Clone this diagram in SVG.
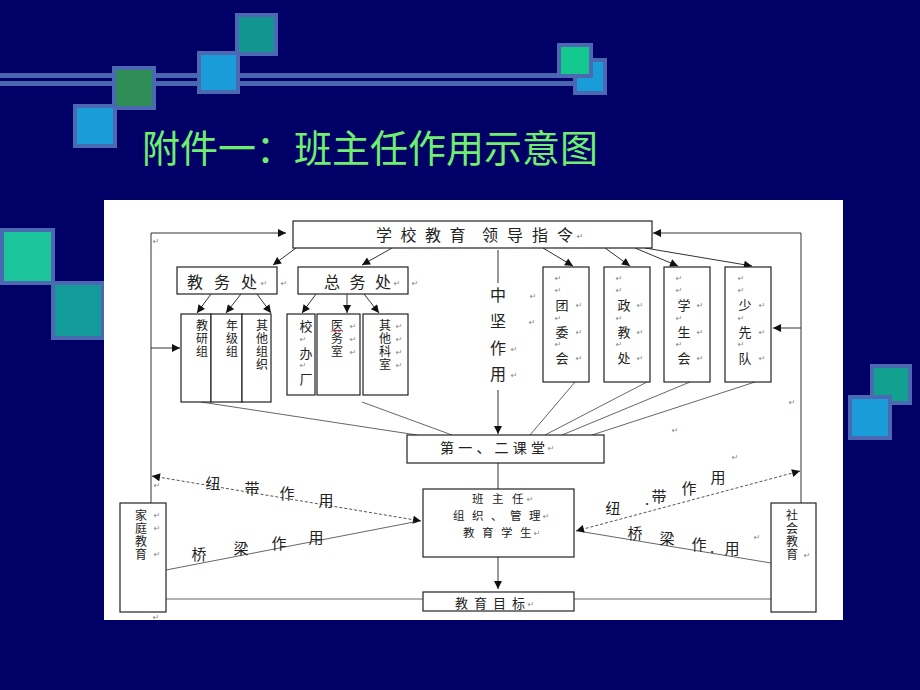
<svg xmlns="http://www.w3.org/2000/svg" width="920" height="690" viewBox="0 0 920 690">
<defs>
<style>
.sq{stroke:#4B68B3;stroke-width:4}
.bx{fill:#fff;stroke:#222;stroke-width:1.2}
.ln{fill:none;stroke:#333;stroke-width:1}
.lt{fill:none;stroke:#555;stroke-width:0.9}
.ds{fill:none;stroke:#555;stroke-width:1;stroke-dasharray:3 2}
.t{font-family:"Noto Sans CJK SC","Noto Sans",sans-serif;fill:#222;text-anchor:middle;dominant-baseline:central}
.s{font-family:"Noto Sans CJK SC","Noto Sans",sans-serif;fill:#222;text-anchor:start;dominant-baseline:central}
.v{font-family:"Noto Sans CJK SC","Noto Sans",sans-serif;fill:#222;font-size:12px;writing-mode:vertical-rl;letter-spacing:1px}
.t115{font-size:11.5px}
.t13{font-size:13px}
.t14{font-size:14px}
.t15{font-size:15px}
.t16{font-size:16px}
.pm{font-family:"DejaVu Sans",sans-serif;font-size:8px;fill:#888;text-anchor:middle;dominant-baseline:central}
</style>
<marker id="ah" viewBox="0 0 10 10" refX="10" refY="5" markerWidth="9" markerHeight="8" markerUnits="userSpaceOnUse" orient="auto-start-reverse"><path d="M0,0 L10,5 L0,10 z" fill="#111"/></marker>
</defs>
<rect width="920" height="690" fill="#000066"/>
<g id="decor">
<rect x="0" y="73" width="573" height="5" fill="#4A66B0"/>
<rect x="0" y="81" width="573" height="5" fill="#4A66B0"/>
<rect class="sq" x="237" y="15" width="39" height="39" fill="#13958F"/>
<rect class="sq" x="199" y="53" width="39" height="39" fill="#1A9CD8"/>
<rect class="sq" x="114" y="68" width="40" height="40" fill="#2F8D58"/>
<rect class="sq" x="75" y="106" width="40" height="40" fill="#1A9CD8"/>
<rect class="sq" x="575" y="60" width="30" height="33" fill="#1A9CD8"/>
<rect class="sq" x="559" y="45" width="32" height="31" fill="#13C98F"/>
<rect class="sq" x="2" y="230" width="51" height="53" fill="#1BC49A"/>
<rect class="sq" x="53" y="283" width="50" height="55" fill="#129B99"/>
<rect class="sq" x="872" y="366" width="38" height="37" fill="#12A090"/>
<rect class="sq" x="850" y="397" width="40" height="41" fill="#1A9CD8"/>
</g>
<text id="title" x="142" y="162" font-family="Noto Sans CJK SC, sans-serif" font-size="38" fill="#6FEF6F">附件一：班主任作用示意图</text>
<rect id="panel" x="104" y="200" width="739" height="420" fill="#fff"/>

<g id="connectors">
<path class="ln" d="M151,503 V233 H286" marker-end="url(#ah)"/>
<path class="ln" d="M151,348 H180" marker-end="url(#ah)"/>
<path class="ln" d="M801,503 V233 H653" marker-end="url(#ah)"/>
<path class="ln" d="M801,328 H773" marker-end="url(#ah)"/>
<path class="ln" d="M296,248 L273,265" marker-end="url(#ah)"/>
<path class="ln" d="M392,248 L362,265" marker-end="url(#ah)"/>
<path class="ln" d="M211,294 L197,313" marker-end="url(#ah)"/>
<path class="ln" d="M241,294 L226,313" marker-end="url(#ah)"/>
<path class="ln" d="M257,294 L271,313" marker-end="url(#ah)"/>
<path class="ln" d="M316,294 L302,313" marker-end="url(#ah)"/>
<path class="ln" d="M347,294 L347,313" marker-end="url(#ah)"/>
<path class="ln" d="M364,294 L379,313" marker-end="url(#ah)"/>
<path class="ln" d="M543,248 L573,266" marker-end="url(#ah)"/>
<path class="ln" d="M605,248 L630,266" marker-end="url(#ah)"/>
<path class="ln" d="M635,248 L678,266" marker-end="url(#ah)"/>
<path class="ln" d="M645,248 L752,266" marker-end="url(#ah)"/>
<path class="ln" d="M498,250 V283"/>
<path class="ln" d="M498,390 V434" marker-end="url(#ah)"/>
<path class="lt" d="M201,402 L417,435"/>
<path class="lt" d="M362,402 L452,435"/>
<path class="lt" d="M575,382 L530,435"/>
<path class="lt" d="M647,382 L545,435"/>
<path class="lt" d="M690,382 L562,435"/>
<path class="lt" d="M755,382 L592,435"/>
<path class="ln" d="M498,463 V489"/>
<path class="ln" d="M498,557 V589" marker-end="url(#ah)"/>
<path class="lt" d="M166,599 H423"/>
<path class="lt" d="M574,599 H771"/>
<path class="ds" d="M152,476 L421,521" marker-start="url(#ah)" marker-end="url(#ah)"/>
<path class="lt" d="M166,570 L414,522"/>
<path class="ds" d="M576,531 L800,471" marker-start="url(#ah)" marker-end="url(#ah)"/>
<path class="lt" d="M771,563 L584,532"/>
</g>

<g id="labels">
<text class="t t15" x="213" y="482">纽</text>
<text class="t t15" x="252" y="487">带</text>
<text class="t t15" x="287" y="492">作</text>
<text class="t t15" x="326" y="499">用</text>
<text class="t t15" x="199" y="553">桥</text>
<text class="t t15" x="241" y="547">梁</text>
<text class="t t15" x="279" y="542">作</text>
<text class="t t15" x="316" y="536">用</text>
<text class="t t15" x="613" y="507">纽</text>
<text class="t t15" x="647" y="498">.</text>
<text class="t t15" x="659" y="495">带</text>
<text class="t t15" x="689" y="487">作</text>
<text class="t t15" x="718" y="476">用</text>
<text class="t t15" x="635" y="532">桥</text>
<text class="t t15" x="667" y="537">梁</text>
<text class="t t15" x="699" y="543">作</text>
<text class="t t15" x="712" y="546">.</text>
<text class="t t15" x="732" y="547">用</text>
</g>

<g id="n-top">
<rect class="bx" x="293" y="221" width="359" height="27"/>
<text class="s t16" x="376 400.5 425 449.5" y="234">学校教育</text>
<text class="s t16" x="482 507 532 557" y="234">领导指令</text>
<text class="pm" x="580" y="236">↵</text>
</g>
<g id="n-jwc">
<rect class="bx" x="177" y="267" width="100" height="27"/>
<text class="s t16" x="187 214 241" y="281">教务处</text>
<text class="pm" x="264" y="283">↵</text>
<text class="pm" x="284" y="283">↵</text>
</g>
<g id="n-zwc">
<rect class="bx" x="298" y="267" width="110" height="27"/>
<text class="s t16" x="324 349.5 375" y="281">总务处</text>
<text class="pm" x="397" y="283">↵</text>
<text class="pm" x="415" y="283">↵</text>
</g>
<g id="n-jyz">
<rect class="bx" x="181" y="314" width="30" height="88"/>
<text class="v" x="202" y="319">教研组</text>
</g>
<g id="n-njz">
<rect class="bx" x="211" y="314" width="31" height="88"/>
<text class="v" x="232" y="319">年级组</text>
</g>
<g id="n-qtzz">
<rect class="bx" x="242" y="314" width="29" height="88"/>
<text class="v" x="262" y="319">其他组织</text>
</g>
<g id="n-xbc">
<rect class="bx" x="287" y="314" width="28" height="81"/>
<text class="t t13" x="306" y="325">校</text>
<text class="pm" x="303" y="339">↵</text>
<text class="t t13" x="306" y="352">办</text>
<text class="pm" x="303" y="365">↵</text>
<text class="t t13" x="306" y="378">厂</text>
</g>
<g id="n-yws">
<rect class="bx" x="317" y="314" width="43" height="81"/>
<text class="v" x="337" y="319">医务室</text>
<path d="M331,332 l2,-1.5 l2,1.5 l2,-1.5 l2,1.5 l2,-1.5 l2,1.5" fill="none" stroke="#e33" stroke-width="0.8"/>
<text class="pm" x="353" y="326">↵</text>
<text class="pm" x="353" y="339">↵</text>
<text class="pm" x="353" y="352">↵</text>
</g>
<g id="n-qtks">
<rect class="bx" x="363" y="314" width="45" height="81"/>
<text class="v" x="385" y="319">其他科室</text>
<text class="pm" x="399" y="326">↵</text>
<text class="pm" x="399" y="339">↵</text>
<text class="pm" x="399" y="352">↵</text>
<text class="pm" x="399" y="365">↵</text>
</g>
<g id="n-zjzy">
<text class="t t16" x="498" y="294">中</text>
<text class="t t16" x="498" y="320">坚</text>
<text class="t t16" x="498" y="347">作</text>
<text class="t t16" x="498" y="373">用</text>
<text class="pm" x="533" y="296">↵</text>
<text class="pm" x="532" y="322">↵</text>
<text class="pm" x="514" y="349">↵</text>
<text class="pm" x="514" y="375">↵</text>
</g>
<g id="n-twh">
<rect class="bx" x="543" y="267" width="46" height="115"/>
<text class="pm" x="558" y="278">↵</text><text class="pm" x="558" y="290">↵</text>
<text class="t t13" x="562" y="304">团</text><text class="pm" x="579" y="305">↵</text>
<text class="pm" x="558" y="318">↵</text>
<text class="t t13" x="562" y="331">委</text><text class="pm" x="579" y="332">↵</text>
<text class="pm" x="558" y="344">↵</text>
<text class="t t13" x="562" y="357">会</text><text class="pm" x="579" y="358">↵</text>
</g>
<g id="n-zjc">
<rect class="bx" x="604" y="267" width="46" height="115"/>
<text class="pm" x="619" y="278">↵</text><text class="pm" x="619" y="290">↵</text>
<text class="t t13" x="624" y="304">政</text><text class="pm" x="640" y="305">↵</text>
<text class="pm" x="619" y="318">↵</text>
<text class="t t13" x="624" y="331">教</text><text class="pm" x="640" y="332">↵</text>
<text class="pm" x="619" y="344">↵</text>
<text class="t t13" x="624" y="357">处</text><text class="pm" x="640" y="358">↵</text>
</g>
<g id="n-xsh">
<rect class="bx" x="664" y="267" width="46" height="115"/>
<text class="pm" x="679" y="278">↵</text><text class="pm" x="679" y="290">↵</text>
<text class="t t13" x="684" y="304">学</text><text class="pm" x="700" y="305">↵</text>
<text class="pm" x="679" y="318">↵</text>
<text class="t t13" x="684" y="331">生</text><text class="pm" x="700" y="332">↵</text>
<text class="pm" x="679" y="344">↵</text>
<text class="t t13" x="684" y="357">会</text><text class="pm" x="700" y="358">↵</text>
</g>
<g id="n-sxd">
<rect class="bx" x="725" y="267" width="46" height="115"/>
<text class="pm" x="741" y="278">↵</text><text class="pm" x="741" y="290">↵</text>
<text class="t t13" x="745" y="304">少</text><text class="pm" x="762" y="305">↵</text>
<text class="pm" x="741" y="318">↵</text>
<text class="t t13" x="745" y="331">先</text><text class="pm" x="762" y="332">↵</text>
<text class="pm" x="741" y="344">↵</text>
<text class="t t13" x="745" y="357">队</text><text class="pm" x="762" y="358">↵</text>
</g>
<g id="n-ketang">
<rect class="bx" x="407" y="435" width="197" height="28"/>
<text class="s t14" x="440 458.2 476.4 494.6 512.8 531" y="447">第一、二课堂</text>
<text class="pm" x="551" y="448">↵</text>
</g>
<g id="n-bzr">
<rect class="bx" x="423" y="489" width="151" height="68"/>
<text class="s t115" x="472 492 512" y="498">班主任</text>
<text class="pm" x="530" y="499">↵</text>
<text class="s t115" x="453 472 491 510 529" y="515">组织、管理</text>
<text class="pm" x="546" y="516">↵</text>
<text class="s t115" x="463 482 501 520" y="532">教育学生</text>
<text class="pm" x="537" y="533">↵</text>
</g>
<g id="n-mubiao">
<rect class="bx" x="423" y="592" width="151" height="19"/>
<text class="s t13" x="455 474 493 512" y="602">教育目标</text>
<text class="pm" x="531" y="604">↵</text>
</g>
<g id="n-jtjy">
<rect class="bx" x="120" y="503" width="46" height="109"/>
<text class="v" x="141" y="509">家庭教育</text>
<text class="pm" x="157" y="515">↵</text>
<text class="pm" x="157" y="528">↵</text>
<text class="pm" x="157" y="554">↵</text>
</g>
<g id="n-shjy">
<rect class="bx" x="771" y="503" width="45" height="109"/>
<text class="v" x="792" y="509">社会教育</text>
<text class="pm" x="807" y="555">↵</text>
</g>
<g id="marks">
<text class="pm" x="156" y="241">↵</text>
<text class="pm" x="157" y="485">↵</text>
<text class="pm" x="675" y="430">↵</text>
<text class="pm" x="735" y="457">↵</text>
<text class="pm" x="757" y="537">↵</text>
<text class="pm" x="792" y="402">↵</text>
<text class="pm" x="156" y="617">↵</text>
</g>
</svg>
